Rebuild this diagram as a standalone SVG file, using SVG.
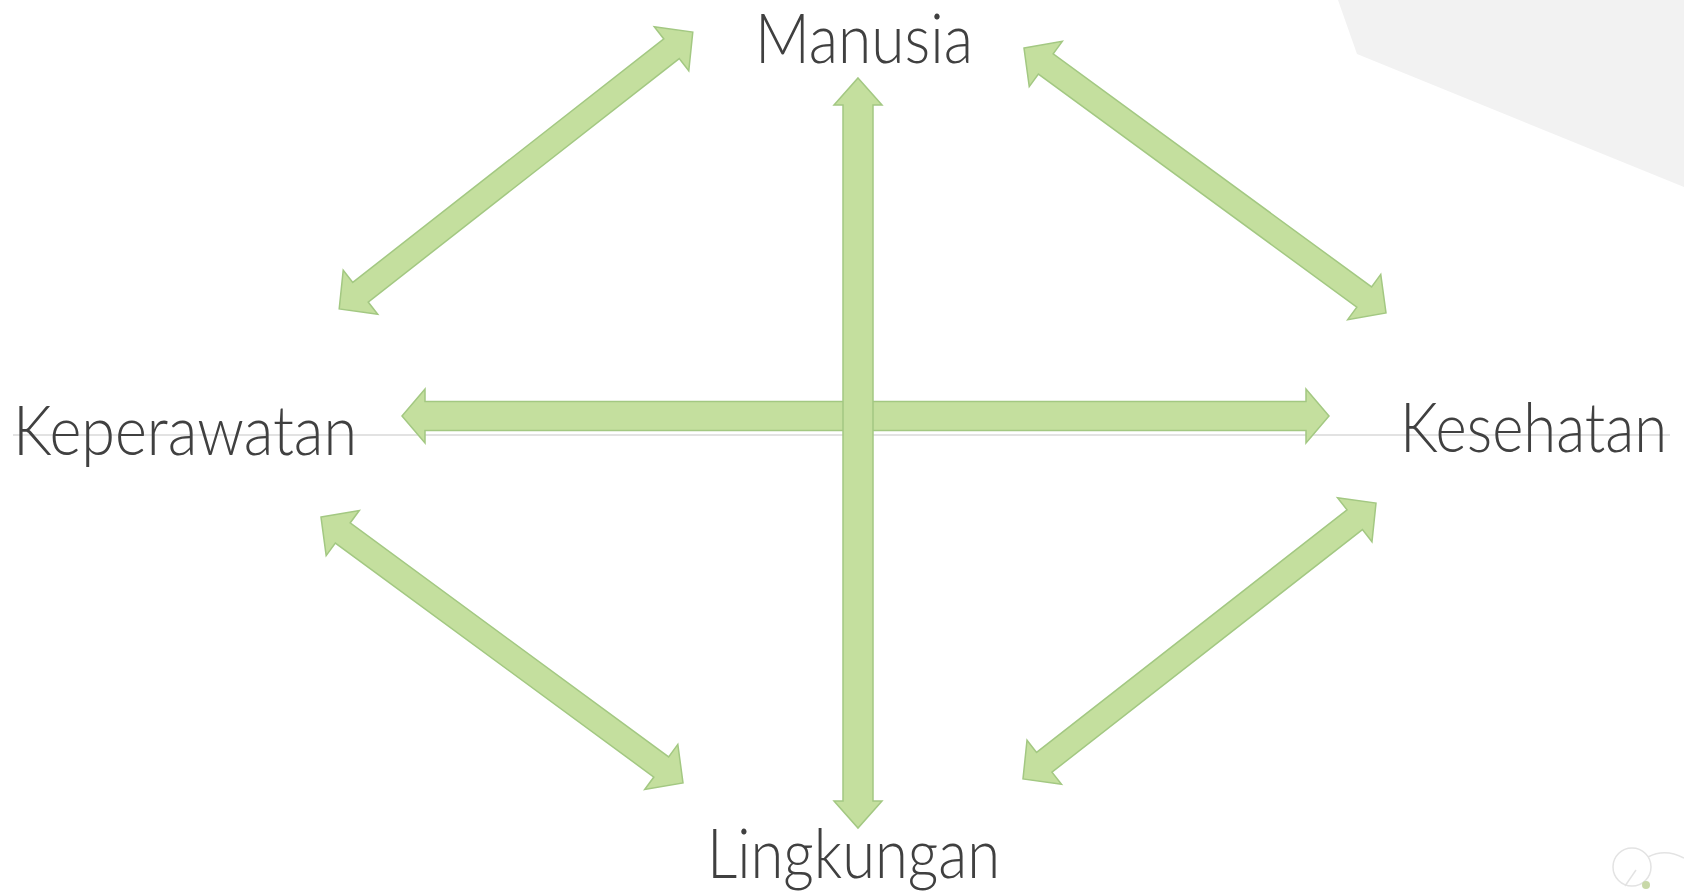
<svg xmlns="http://www.w3.org/2000/svg" width="1684" height="891" viewBox="0 0 1684 891">
<style>
.lbl{font-family:Lato,"Open Sans","Liberation Sans",sans-serif;font-weight:300;font-size:68px;fill:#404040}
.arr{fill:#c4df9e;stroke:#a3c882;stroke-width:1.5;stroke-linejoin:miter}
</style>
<rect width="1684" height="891" fill="#ffffff"/>
<polygon points="1338,0 1684,0 1684,187 1357,54" fill="#f2f2f2"/>
<line x1="13" y1="435" x2="1670" y2="435" stroke="#d9d9d9" stroke-width="1.5"/>
<g id="icon" fill="none" stroke="#e3e3e3" stroke-width="1.5">
<circle cx="1632" cy="867" r="19"/>
<path d="M1648,857 Q1665,848 1684,858"/>
<path d="M1625,886 L1636,870"/>
<circle cx="1646" cy="885" r="4" fill="#c8d8a8" stroke="none"/>
</g>
<g id="connectors">
<path class="arr" transform="translate(516,170.5) rotate(-38.05)" d="M-224.5,0 L-197.5,-28 L-197.5,-12.5 L197.5,-12.5 L197.5,-28 L224.5,0 L197.5,28 L197.5,12.5 L-197.5,12.5 L-197.5,28 Z"/>
<path class="arr" transform="translate(1205,180.5) rotate(36.2)" d="M-224.3,0 L-197.3,-28 L-197.3,-12.5 L197.3,-12.5 L197.3,-28 L224.3,0 L197.3,28 L197.3,12.5 L-197.3,12.5 L-197.3,28 Z"/>
<path class="arr" transform="translate(502,650) rotate(36.3)" d="M-224.6,0 L-197.6,-28 L-197.6,-12.5 L197.6,-12.5 L197.6,-28 L224.6,0 L197.6,28 L197.6,12.5 L-197.6,12.5 L-197.6,28 Z"/>
<path class="arr" transform="translate(1199.5,641) rotate(-38)" d="M-224,0 L-197,-28 L-197,-12.5 L197,-12.5 L197,-28 L224,0 L197,28 L197,12.5 L-197,12.5 L-197,28 Z"/>
<path class="arr" transform="translate(865.5,416)" d="M-463.5,0 L-440.5,-27 L-440.5,-14.5 L440.5,-14.5 L440.5,-27 L463.5,0 L440.5,27 L440.5,14.5 L-440.5,14.5 L-440.5,27 Z"/>
<path class="arr" transform="translate(858,453) rotate(90)" d="M-375,0 L-348,-24 L-348,-15 L348,-15 L348,-24 L375,0 L348,24 L348,15 L-348,15 L-348,24 Z"/>
</g>
<g id="manusia"><text class="lbl" x="755" y="63" textLength="218" lengthAdjust="spacingAndGlyphs">Manusia</text></g>
<g id="keperawatan"><text class="lbl" x="13" y="455" textLength="344" lengthAdjust="spacingAndGlyphs">Keperawatan</text></g>
<g id="kesehatan"><text class="lbl" x="1400" y="452" textLength="267" lengthAdjust="spacingAndGlyphs">Kesehatan</text></g>
<g id="lingkungan"><text class="lbl" x="707" y="878" textLength="293" lengthAdjust="spacingAndGlyphs">Lingkungan</text></g>
</svg>
